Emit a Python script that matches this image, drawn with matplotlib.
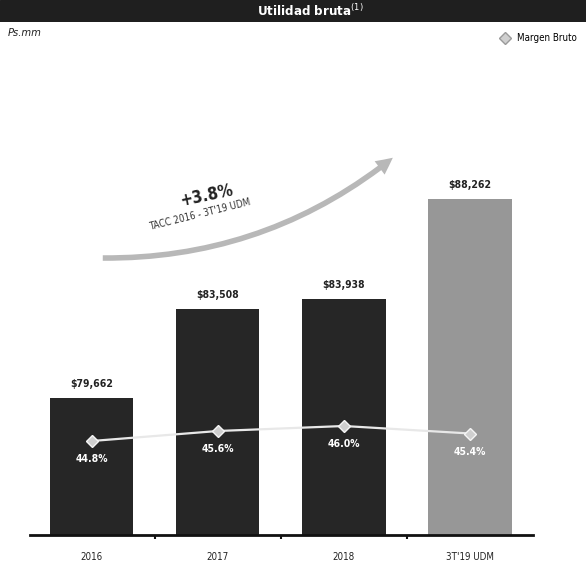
import matplotlib
matplotlib.use("Agg")
import matplotlib.pyplot as plt
from matplotlib.patches import Rectangle, FancyArrowPatch
from matplotlib.lines import Line2D

plt.rcParams['font.family'] = ['DejaVu Sans']
plt.rcParams['font.stretch'] = 'condensed'

categories = ["2016", "2017", "2018", "3T'19 UDM"]
gross_profit = [79662, 83508, 83938, 88262]
value_labels = ["$79,662", "$83,508", "$83,938", "$88,262"]
gross_margin = [44.8, 45.6, 46.0, 45.4]
margin_labels = ["44.8%", "45.6%", "46.0%", "45.4%"]
bar_colors = ["#262626", "#262626", "#262626", "#979797"]

W, H = 586, 566
fig = plt.figure(figsize=(W / 100, H / 100), dpi=100)
fig.patch.set_facecolor("white")

# Header band
hdr = fig.add_axes([0, 1 - 22 / H, 1, 22 / H])
hdr.set_axis_off()
hdr.add_patch(Rectangle((0, 0), 1, 1, color="#1f1f1f", transform=hdr.transAxes))
hdr.text(0.53, 0.5, r"Utilidad bruta$^{(1)}$", color="white", fontsize=9.5,
         fontweight="bold", ha="center", va="center", transform=hdr.transAxes)

fig.text(8 / W, 1 - 33 / H, "Ps.mm", fontsize=8, style="italic", ha="left", va="center", color="#222222")

# Main axes
left_px, right_px, bottom_px, top_px = 30, 533, 535, 70
ax = fig.add_axes([left_px / W, 1 - bottom_px / H, (right_px - left_px) / W, (bottom_px - top_px) / H])
x = list(range(len(categories)))
bars = ax.bar(x, gross_profit, width=0.66, color=bar_colors, zorder=2)
ax.set_xlim(-0.49, 3.5)
ax.set_ylim(73742, 93837)
for xi, v, lab in zip(x, gross_profit, value_labels):
    ax.annotate(lab, (xi, v), xytext=(0, 9), textcoords="offset pixels",
                ha="center", va="bottom", fontsize=7.5, fontweight="bold", color="#222222")

ax.set_xticks(x)
ax.set_xticklabels(categories, fontsize=7, color="#222222")
ax.tick_params(axis="x", which="major", length=0, pad=12)
ax.set_xticks([0.5, 1.5, 2.5], minor=True)
ax.tick_params(axis="x", which="minor", length=3, width=1.5, color="#111111")
ax.set_yticks([])
for s in ["top", "right", "left"]:
    ax.spines[s].set_visible(False)
ax.spines["bottom"].set_linewidth(2)
ax.spines["bottom"].set_color("#111111")

# Margin line on twin axis
ax2 = ax.twinx()
ax2.set_ylim(37.28, 74.48)
ax2.plot(x, gross_margin, color="#e8e8e8", lw=1.6, marker="D", markersize=6,
         markerfacecolor="#cfcfcf", markeredgecolor="#f5f5f5", zorder=3)
for xi, m, lab in zip(x, gross_margin, margin_labels):
    ax2.annotate(lab, (xi, m), xytext=(0, -13), textcoords="offset pixels",
                 ha="center", va="top", fontsize=7.5, fontweight="bold", color="white")
ax2.set_yticks([])
for s in ["top", "right", "left", "bottom"]:
    ax2.spines[s].set_visible(False)

# Legend
handle = Line2D([], [], color="#bdbdbd", marker="D", linestyle="none", markersize=6,
                markerfacecolor="#cfcfcf", markeredgecolor="#9a9a9a")
fig.legend([handle], ["Margen Bruto"], loc="center right", bbox_to_anchor=(1.0, 1 - 38 / H),
           frameon=False, fontsize=7, handletextpad=0.3)

# Growth arrow (CAGR annotation)
arrow = FancyArrowPatch((100 / W, 1 - 258 / H), (395 / W, 1 - 156 / H), transform=fig.transFigure,
                        connectionstyle="arc3,rad=0.18",
                        arrowstyle="simple,head_length=12,head_width=12,tail_width=4",
                        color="#b8b8b8", lw=0)
fig.add_artist(arrow)
fig.text(207 / W, 1 - 195 / H, "+3.8%", fontsize=12, fontweight="bold", rotation=12,
         ha="center", va="center", color="#222222")
fig.text(200 / W, 1 - 214 / H, "TACC 2016 - 3T'19 UDM", fontsize=7, rotation=14,
         ha="center", va="center", color="#333333")

fig.savefig("out.png", dpi=100)
